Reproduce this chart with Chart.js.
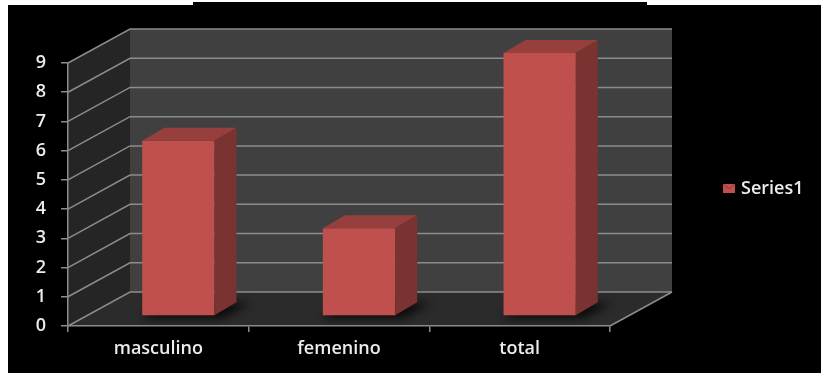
<!DOCTYPE html>
<html>
<head>
<meta charset="utf-8">
<script src="https://cdn.jsdelivr.net/npm/chart.js@4.4.1/dist/chart.umd.min.js"></script>
<style>
  html, body { margin: 0; padding: 0; background: #fff; }
  #notch { position: absolute; left: 193px; top: 2px; width: 454px; height: 3px; background: #000; }
  #frame { position: absolute; left: 8px; top: 5px; width: 813px; height: 368px; background: #000; }
</style>
</head>
<body>
<div id="notch"></div>
<div id="frame"><canvas id="chart" width="813" height="368"></canvas></div>
<script>
const categories = ['masculino', 'femenino', 'total'];
const series1 = [6, 3, 9];
const yTickValues = [0, 1, 2, 3, 4, 5, 6, 7, 8, 9];
const seriesName = 'Series1';

// fake 3d offsets, in pixels
const DEPTH = { x: 62, y: -34 };
const BAR_SHIFT = { x: 20, y: -10 };
const BAR_DEPTH = { x: 22, y: -13 };

const GRID = '#8c8c8c';
const TEXT = '#ececec';

Chart.defaults.font.family = "'Open Sans', sans-serif";
Chart.defaults.font.size = 18;
Chart.defaults.font.weight = '600';
Chart.defaults.color = TEXT;

function poly(ctx, pts, fill) {
    ctx.beginPath();
    ctx.moveTo(pts[0][0], pts[0][1]);
    for (let i = 1; i < pts.length; i++) ctx.lineTo(pts[i][0], pts[i][1]);
    ctx.closePath();
    ctx.fillStyle = fill;
    ctx.fill();
}

function line(ctx, pts) {
    ctx.beginPath();
    ctx.moveTo(pts[0][0], pts[0][1]);
    for (let i = 1; i < pts.length; i++) ctx.lineTo(pts[i][0], pts[i][1]);
    ctx.stroke();
}

const box3d = {
    id: 'box3d',
    beforeDraw(chart) {
        const { ctx } = chart;
        const xs = chart.scales.x, ys = chart.scales.y;
        const l = xs.left, r = xs.right;
        const b = ys.getPixelForValue(yTickValues[0]);
        const t = ys.getPixelForValue(yTickValues[yTickValues.length - 1]);
        const dx = DEPTH.x, dy = DEPTH.y;

        ctx.save();
        poly(ctx, [[l + dx, t + dy], [r + dx, t + dy], [r + dx, b + dy], [l + dx, b + dy]], '#404040');
        poly(ctx, [[l, t], [l + dx, t + dy], [l + dx, b + dy], [l, b]], '#252525');
        poly(ctx, [[l, b], [r, b], [r + dx, b + dy], [l + dx, b + dy]], '#2b2b2b');

        ctx.strokeStyle = GRID;
        ctx.lineWidth = 1.5;
        yTickValues.forEach(v => {
            const py = ys.getPixelForValue(v);
            line(ctx, [[l, py], [l + dx, py + dy], [r + dx, py + dy]]);
        });
        line(ctx, [[r, b], [r + dx, b + dy]]);
        ctx.restore();
    },
    beforeDatasetsDraw(chart) {
        const { ctx } = chart;
        ctx.save();
        ctx.translate(BAR_SHIFT.x, BAR_SHIFT.y);
        // soft shadow on the floor
        const meta = chart.getDatasetMeta(0);
        ctx.save();
        ctx.filter = 'blur(4px)';
        meta.data.forEach(bar => {
            const L = bar.x - bar.width / 2, R = bar.x + bar.width / 2, B = bar.base;
            poly(ctx, [[L - 2, B + 3], [R + 8, B + 3], [R + BAR_DEPTH.x + 14, B + BAR_DEPTH.y + 1],
                [L + BAR_DEPTH.x, B + BAR_DEPTH.y]], 'rgba(0,0,0,0.75)');
        });
        ctx.restore();
    },
    afterDatasetsDraw(chart) {
        const { ctx } = chart;
        const meta = chart.getDatasetMeta(0);
        const ddx = BAR_DEPTH.x, ddy = BAR_DEPTH.y;
        meta.data.forEach(bar => {
            const L = bar.x - bar.width / 2, R = bar.x + bar.width / 2;
            const T = bar.y, B = bar.base;
            poly(ctx, [[L, T], [R, T], [R + ddx, T + ddy], [L + ddx, T + ddy]], '#963f3c');
            poly(ctx, [[R, T], [R + ddx, T + ddy], [R + ddx, B + ddy], [R, B]], '#7a3331');
        });
        ctx.restore();
    },
    afterDraw(chart) {
        const { ctx } = chart;
        ctx.save();
        poly(ctx, [[715, 179], [727, 179], [727, 188], [715, 188]], '#c0504d');
        ctx.strokeStyle = '#8f3835';
        ctx.lineWidth = 1;
        line(ctx, [[715, 179], [721, 184], [727, 179]]);
        ctx.fillStyle = TEXT;
        ctx.font = "600 18px 'Open Sans', sans-serif";
        ctx.textBaseline = 'middle';
        ctx.fillText(seriesName, 733, 184);
        ctx.restore();
    }
};

new Chart(document.getElementById('chart'), {
    type: 'bar',
    data: {
        labels: categories,
        datasets: [{
            label: seriesName,
            data: series1,
            backgroundColor: '#c0504d',
            borderWidth: 0,
            barPercentage: 0.8,
            categoryPercentage: 0.5,
            clip: false
        }]
    },
    options: {
        responsive: false,
        animation: false,
        events: [],
        layout: { padding: { top: 58, right: 211, bottom: 0, left: 0 } },
        plugins: {
            legend: { display: false },
            tooltip: { enabled: false }
        },
        scales: {
            x: {
                grid: { drawOnChartArea: false, color: GRID, tickLength: 6, lineWidth: 1.5 },
                border: { color: GRID, width: 1.5 },
                ticks: { padding: 6, color: TEXT },
                afterFit(scale) { scale.height = 47; }
            },
            y: {
                min: 0,
                max: 9,
                grid: { drawOnChartArea: false, color: GRID, tickLength: 7, lineWidth: 1.5 },
                border: { color: GRID, width: 1.5 },
                ticks: { stepSize: 1, padding: 15, color: TEXT },
                afterFit(scale) { scale.width = 60; }
            }
        }
    },
    plugins: [box3d]
});
</script>
</body>
</html>
